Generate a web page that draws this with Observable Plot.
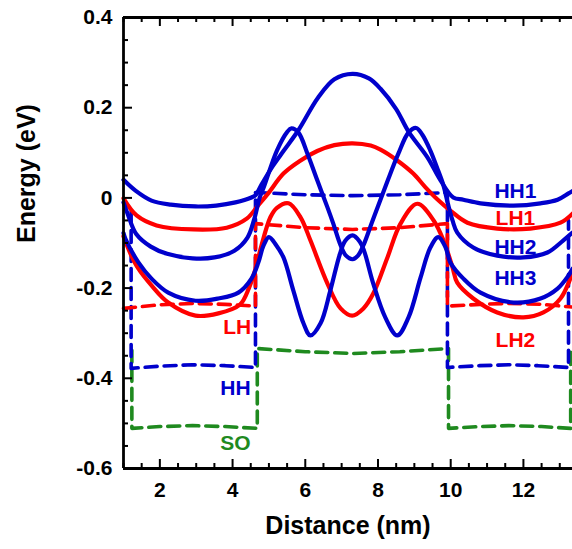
<!DOCTYPE html>
<html><head><meta charset="utf-8">
<script src="https://cdn.jsdelivr.net/npm/d3@7"></script>
<script src="https://cdn.jsdelivr.net/npm/@observablehq/plot@0.6"></script>
<style>body{margin:0;background:#fff} svg{overflow:visible}</style>
</head><body><div id="chart"></div>
<script>
// ---- data (x in nm, energy in eV) ----
const HH1 = [[1.00,0.040],[1.33,0.016],[1.77,-0.006],[2.30,-0.015],[2.98,-0.019],[3.55,-0.017],[4.08,-0.010],[4.52,0.001],[4.63,0.006],[4.80,0.030],[5.10,0.070],[5.41,0.105],[5.81,0.150],[6.35,0.222],[6.80,0.263],[7.30,0.275],[7.75,0.265],[8.07,0.242],[8.50,0.197],[8.84,0.147],[9.36,0.090],[9.72,0.039],[10.07,0.001],[10.35,-0.004],[10.82,-0.012],[11.73,-0.017],[12.47,-0.012],[12.94,-0.004],[13.24,0.010],[13.35,0.015]];
const LH1 = [[1.00,-0.001],[1.36,-0.039],[1.91,-0.061],[2.93,-0.070],[3.84,-0.066],[4.39,-0.046],[4.70,-0.017],[4.98,0.010],[5.40,0.054],[5.85,0.082],[6.33,0.104],[6.80,0.117],[7.30,0.121],[7.80,0.116],[8.07,0.107],[8.53,0.083],[8.97,0.054],[9.30,0.024],[9.63,-0.003],[9.99,-0.028],[10.46,-0.055],[11.28,-0.068],[12.19,-0.068],[13.02,-0.055],[13.35,-0.035]];
const HH2 = [[1.00,-0.010],[1.13,-0.039],[1.35,-0.080],[1.75,-0.108],[2.20,-0.124],[2.90,-0.134],[3.50,-0.132],[4.05,-0.117],[4.41,-0.088],[4.60,-0.046],[4.74,-0.001],[4.86,0.024],[5.22,0.105],[5.50,0.146],[5.62,0.154],[5.81,0.145],[6.06,0.098],[6.33,0.039],[6.61,-0.021],[6.77,-0.057],[6.97,-0.105],[7.12,-0.128],[7.30,-0.136],[7.45,-0.128],[7.60,-0.105],[7.83,-0.055],[7.99,-0.021],[8.27,0.039],[8.56,0.098],[8.84,0.145],[9.05,0.155],[9.22,0.140],[9.44,0.105],[9.62,0.068],[9.80,0.028],[9.92,-0.012],[10.05,-0.050],[10.18,-0.077],[10.62,-0.110],[11.28,-0.128],[12.00,-0.132],[12.66,-0.121],[13.10,-0.094],[13.35,-0.077]];
const HH3 = [[1.00,-0.078],[1.05,-0.090],[1.41,-0.143],[1.77,-0.179],[2.23,-0.210],[2.98,-0.228],[3.61,-0.223],[4.16,-0.210],[4.52,-0.179],[4.71,-0.143],[4.85,-0.106],[5.00,-0.087],[5.20,-0.105],[5.40,-0.132],[5.67,-0.205],[5.95,-0.278],[6.14,-0.305],[6.42,-0.278],[6.69,-0.205],[6.95,-0.125],[7.10,-0.095],[7.30,-0.083],[7.50,-0.097],[7.62,-0.118],[7.87,-0.190],[8.20,-0.265],[8.53,-0.305],[8.84,-0.265],[9.17,-0.177],[9.44,-0.110],[9.66,-0.087],[9.86,-0.110],[9.99,-0.143],[10.35,-0.179],[10.82,-0.210],[11.73,-0.232],[12.47,-0.223],[12.94,-0.201],[13.24,-0.172],[13.35,-0.157]];
const LH2 = [[1.00,-0.085],[1.20,-0.125],[1.41,-0.157],[1.77,-0.194],[2.23,-0.232],[2.98,-0.261],[3.61,-0.256],[4.20,-0.237],[4.45,-0.200],[4.62,-0.160],[4.78,-0.110],[5.04,-0.043],[5.22,-0.022],[5.54,-0.012],[5.87,-0.043],[6.14,-0.094],[6.61,-0.190],[6.97,-0.245],[7.29,-0.261],[7.60,-0.245],[7.87,-0.212],[8.26,-0.132],[8.62,-0.057],[9.08,-0.013],[9.53,-0.050],[9.80,-0.094],[10.05,-0.154],[10.18,-0.188],[10.62,-0.223],[11.28,-0.254],[12.00,-0.265],[12.55,-0.254],[13.02,-0.223],[13.29,-0.179],[13.35,-0.165]];
// band edges (dashed)
const bandHH = [[1.21,-0.030],[1.21,-0.378],[2.00,-0.373],[2.90,-0.370],[3.80,-0.372],[4.63,-0.376],[4.63,0.012],[6.00,0.007],[7.30,0.005],[8.60,0.007],[9.91,0.012],[9.91,-0.376],[10.80,-0.372],[11.60,-0.370],[12.40,-0.372],[13.24,-0.376],[13.24,-0.050]];
const bandLH = [[1.00,-0.245],[2.00,-0.237],[2.90,-0.234],[3.80,-0.236],[4.63,-0.240],[4.63,-0.057],[6.00,-0.066],[7.30,-0.070],[8.60,-0.066],[9.91,-0.057],[9.91,-0.240],[10.80,-0.236],[11.60,-0.234],[12.50,-0.236],[13.35,-0.242]];
const bandSO = [[1.23,-0.338],[1.23,-0.511],[2.00,-0.507],[2.90,-0.505],[3.80,-0.507],[4.68,-0.511],[4.68,-0.334],[6.00,-0.341],[7.30,-0.345],[8.60,-0.341],[9.94,-0.334],[9.94,-0.511],[10.80,-0.507],[11.60,-0.505],[12.50,-0.507],[13.30,-0.511],[13.30,-0.338]];
// labels
const labelText = ["HH1","LH1","HH2","HH3","LH2","LH","HH","SO"];
const labelX    = [11.78,11.78,11.78,11.78,11.78,4.13,4.08,4.08];
const labelY    = [0.014,-0.046,-0.110,-0.179,-0.316,-0.287,-0.423,-0.545];
const labelCol  = ["blue","red","blue","blue","red","red","blue","green"];
// ticks
const xMajor = [2,4,6,8,10,12];
const xMinor = [1,1.5,2.5,3,3.5,4.5,5,5.5,6.5,7,7.5,8.5,9,9.5,10.5,11,11.5,12.5,13];
const yMajor = [-0.6,-0.4,-0.2,0,0.2,0.4];
const yMinor = [-0.55,-0.5,-0.45,-0.35,-0.3,-0.25,-0.15,-0.1,-0.05,0.05,0.1,0.15,0.25,0.3,0.35];

const COL = {blue:"#0000cc", red:"#ff0000", green:"#1f8a1f"};
const W=572, H=549, mL=123, mR=0, mT=17, mB=81;
const pw = W-mL-mR, ph = H-mT-mB;
const labels = labelText.map((t,i)=>({t, x:labelX[i], y:labelY[i], c:COL[labelCol[i]]}));
const font = "'Liberation Sans', Arial, Helvetica, sans-serif";
const X = d=>d[0], Y = d=>d[1];
const dashed = (data,c)=>Plot.line(data,{x:X,y:Y,stroke:c,strokeWidth:3.6,strokeDasharray:"12,7",curve:"linear"});
const solid = (data,c)=>Plot.line(data,{x:X,y:Y,stroke:c,strokeWidth:4.2,curve:"catmull-rom"});

const chart = Plot.plot({
  width: W, height: H, marginLeft: mL, marginRight: mR, marginTop: mT, marginBottom: mB,
  x: {domain: [1, 13.35]}, y: {domain: [-0.6, 0.4]},
  style: {fontFamily: font, fontWeight: "bold", background: "white", color: "black"},
  marks: [
    dashed(bandSO, COL.green),
    dashed(bandHH, COL.blue),
    dashed(bandLH, COL.red),
    solid(LH2, COL.red),
    solid(LH1, COL.red),
    solid(HH3, COL.blue),
    solid(HH2, COL.blue),
    solid(HH1, COL.blue),
    Plot.text(labels, {x:"x", y:"y", text:"t", fill:"c", fontSize:21, fontWeight:"bold"}),
    // ticks (inward)
    Plot.tickX(xMajor, {x:d=>d, insetTop: ph-9, strokeWidth:2}),
    Plot.tickX(xMinor, {x:d=>d, insetTop: ph-5, strokeWidth:2}),
    Plot.tickX(xMajor, {x:d=>d, insetBottom: ph-9, strokeWidth:2}),
    Plot.tickX(xMinor, {x:d=>d, insetBottom: ph-5, strokeWidth:2}),
    Plot.tickY(yMajor, {y:d=>d, insetRight: pw-9, strokeWidth:2}),
    Plot.tickY(yMinor, {y:d=>d, insetRight: pw-5, strokeWidth:2}),
    // frame
    Plot.ruleX([1], {strokeWidth:2.8}),
    Plot.ruleY([-0.6], {strokeWidth:2.8}),
    Plot.ruleY([0.4], {strokeWidth:2.8}),
    // tick labels
    Plot.axisX({ticks: xMajor, tickSize: 0, tickPadding: 14, fontSize: 21, fontWeight:"bold", label: null, tickFormat: d=>String(d)}),
    Plot.axisY({ticks: yMajor, tickSize: 0, tickPadding: 11, fontSize: 21, fontWeight:"bold", label: null, tickFormat: d=>String(d)}),
    // axis titles
    Plot.text(["Distance (nm)"], {text:d=>d, frameAnchor:"bottom", dy: 65, fontSize: 25, fontWeight:"bold"}),
    Plot.text(["Energy (eV)"], {text:d=>d, frameAnchor:"left", dx: -97, rotate: -90, fontSize: 25, fontWeight:"bold"})
  ]
});
document.getElementById("chart").appendChild(chart);
</script>
</body></html>
